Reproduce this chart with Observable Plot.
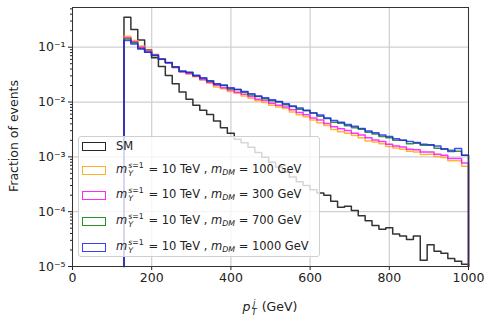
<!DOCTYPE html>
<html><head><meta charset="utf-8">
<script src="https://cdn.jsdelivr.net/npm/d3@7"></script>
<script src="https://cdn.jsdelivr.net/npm/@observablehq/plot@0.6"></script>
<style>
body{margin:0;background:#fff;font-family:"DejaVu Sans",sans-serif;color:#222;}
#wrap{position:relative;width:494px;height:327px;overflow:hidden;}
#legend{position:absolute;left:78px;top:136px;width:242px;height:121px;box-sizing:border-box;border:1px solid #d0d0d0;border-radius:3px;background:rgba(255,255,255,0.8);font-size:11.5px;}
.row{position:absolute;left:3px;display:flex;align-items:center;white-space:nowrap;}
.patch{display:inline-block;width:22px;height:7px;border:1.6px solid #000;margin-right:10px;opacity:0.85;}
.ss{display:inline-flex;flex-direction:column;font-size:0.68em;line-height:1.0;vertical-align:0.6em;margin:0 1px 0 1px;}
sub{font-size:0.68em;vertical-align:-0.3em;line-height:0;}
#xlab{position:absolute;left:0;width:540px;top:299px;text-align:center;font-size:12.5px;}
#ylab{position:absolute;left:13px;top:136px;transform:translate(-50%,-50%) rotate(-90deg);font-size:12.5px;white-space:nowrap;}
</style></head><body><div id="wrap"></div>
<script>
// histogram binning (GeV)
const binLow = 130, binHigh = 1000, nBins = 50;
// series values (fraction of events per bin)
const smValues = [0.351,0.210,0.136,0.0897,0.0641,0.0446,0.0305,0.0216,0.0152,0.0112,0.0087,0.0071,0.0059,0.0045,0.0034,0.0027,0.0021,0.0018,0.0015,0.0012,0.00098,0.00080,0.00065,0.00053,0.00043,0.00035,0.00030,0.00025,0.00022,0.00020,0.000155,0.000120,0.000125,0.000105,0.000084,0.000068,0.000056,0.000048,0.000051,0.000039,0.000036,0.000031,0.000036,0.000013,0.000025,0.000019,0.0000175,0.000014,0.0000125,0.000011];
const dm100Values = [0.158,0.132,0.105,0.0891,0.0741,0.0617,0.0525,0.0427,0.0355,0.0324,0.0288,0.0251,0.0219,0.0188,0.0174,0.0155,0.0145,0.0129,0.0117,0.0105,0.00977,0.00871,0.00813,0.00759,0.00661,0.00589,0.00537,0.00468,0.00417,0.00372,0.00316,0.00288,0.00269,0.00245,0.00224,0.00195,0.00186,0.00174,0.00155,0.00145,0.00138,0.00126,0.00123,0.00110,0.00112,0.00102,0.000977,0.000851,0.000851,0.000676];
const dm300Values = [0.148,0.126,0.100,0.0851,0.0724,0.0603,0.0525,0.0427,0.0355,0.0331,0.0295,0.0257,0.0229,0.0202,0.0182,0.0166,0.0151,0.0138,0.0126,0.0112,0.0107,0.00955,0.00871,0.00813,0.00724,0.00646,0.00589,0.00513,0.00468,0.00407,0.00355,0.00324,0.00302,0.00269,0.00251,0.00224,0.00204,0.00191,0.00170,0.00158,0.00151,0.00138,0.00135,0.00123,0.00123,0.00112,0.00107,0.000933,0.000933,0.000776];
const dm700Values = [0.141,0.120,0.095,0.081,0.070,0.060,0.052,0.043,0.036,0.035,0.030,0.0275,0.024,0.0211,0.0205,0.0174,0.0170,0.0151,0.0135,0.0126,0.0115,0.0105,0.0100,0.0089,0.0083,0.0074,0.0069,0.0063,0.0055,0.0050,0.0043,0.0041,0.0037,0.0034,0.0032,0.0028,0.0026,0.00235,0.00223,0.0020,0.0020,0.00174,0.00178,0.00162,0.00162,0.00144,0.00138,0.00132,0.00126,0.00107];
const dm1000Values = [0.132,0.115,0.093,0.081,0.071,0.060,0.052,0.044,0.037,0.0347,0.0309,0.0275,0.0245,0.0216,0.0200,0.0182,0.0170,0.0155,0.0141,0.0129,0.0120,0.0110,0.0102,0.0093,0.0085,0.0078,0.0071,0.0063,0.0058,0.0051,0.0046,0.0043,0.0039,0.0036,0.0033,0.00295,0.00275,0.00251,0.00234,0.00214,0.00200,0.00191,0.00182,0.00170,0.00166,0.00158,0.00141,0.00125,0.00142,0.00107];
// categories
const seriesKeys = ["SM","DM100","DM300","DM700","DM1000"];
const seriesColors = ["#000000","#ffa500","#ff00ff","#008000","#1a1aff"];
const dmMasses = [100,300,700,1000];
// tick labels
const xTicks = [0,200,400,600,800,1000];
const yTicks = [1e-5,1e-4,1e-3,1e-2,1e-1];
const yTickLabels = ["10\u207B\u2075","10\u207B\u2074","10\u207B\u00B3","10\u207B\u00B2","10\u207B\u00B9"];
const yDomain = [1e-5, 0.53];

const allValues = [smValues, dm100Values, dm300Values, dm700Values, dm1000Values];
const binWidth = (binHigh - binLow) / nBins;
const rows = [];
allValues.forEach((vals, si) => {
  const key = seriesKeys[si];
  rows.push({x: binLow, y: yDomain[0], s: key});
  vals.forEach((v, i) => rows.push({x: binLow + i * binWidth, y: v, s: key}));
  rows.push({x: binHigh, y: vals[vals.length - 1], s: key});
  rows.push({x: binHigh, y: yDomain[0], s: key});
});
const minorTicks = d3.scaleLog().domain(yDomain).ticks().filter(t => !yTicks.some(m => Math.abs(m - t) / t < 1e-6));

const chart = Plot.plot({
  width: 494, height: 327,
  marginLeft: 72, marginRight: 26, marginTop: 7, marginBottom: 61,
  style: {fontFamily: "DejaVu Sans, sans-serif", fontSize: "12.5px", color: "#222", background: "#fff"},
  x: {domain: [0, 1000]},
  y: {type: "log", domain: yDomain},
  color: {domain: seriesKeys, range: seriesColors},
  marks: [
    Plot.gridX(xTicks, {stroke: "#cfcfcf", strokeOpacity: 1, strokeWidth: 1.2}),
    Plot.gridY(yTicks, {stroke: "#cfcfcf", strokeOpacity: 1, strokeWidth: 1.2}),
    Plot.line(rows, {x: "x", y: "y", z: "s", stroke: "s", curve: "step-after", strokeWidth: 1.5, strokeOpacity: 0.8}),
    Plot.axisX({ticks: xTicks, tickSize: 4, tickPadding: 3, label: null, tickFormat: d => String(d)}),
    Plot.axisY({ticks: yTicks, tickSize: 4, tickPadding: 3, label: null, tickFormat: d => yTickLabels[yTicks.findIndex(t => Math.abs(t - d) / t < 1e-6)]}),
    Plot.axisY({ticks: minorTicks, tickSize: 2, label: null, tickFormat: () => ""}),
    Plot.frame({stroke: "#333", strokeWidth: 1})
  ]
});
const wrap = document.getElementById("wrap");
wrap.appendChild(chart);

// legend
const legend = document.createElement("div");
legend.id = "legend";
const rowTops = [1, 22, 47, 73, 99];
const labels = ["SM"].concat(dmMasses.map(m =>
  `<i>m</i><span class="ss"><span><i>s</i>=1</span><span><i>Y</i></span></span> = 10 TeV , <i>m</i><sub><i>DM</i></sub> = ${m} GeV`));
labels.forEach((lab, i) => {
  const r = document.createElement("div");
  r.className = "row";
  r.style.top = rowTops[i] + "px";
  r.style.height = (i === 0 ? 16 : 22) + "px";
  r.innerHTML = `<span class="patch" style="border-color:${seriesColors[i]}"></span><span>${lab}</span>`;
  legend.appendChild(r);
});
wrap.appendChild(legend);

const xl = document.createElement("div");
xl.id = "xlab";
xl.innerHTML = `<i>p</i><span class="ss"><span><i>j</i></span><span><i>T</i></span></span> (GeV)`;
wrap.appendChild(xl);
const yl = document.createElement("div");
yl.id = "ylab";
yl.textContent = "Fraction of events";
wrap.appendChild(yl);
</script></body></html>
